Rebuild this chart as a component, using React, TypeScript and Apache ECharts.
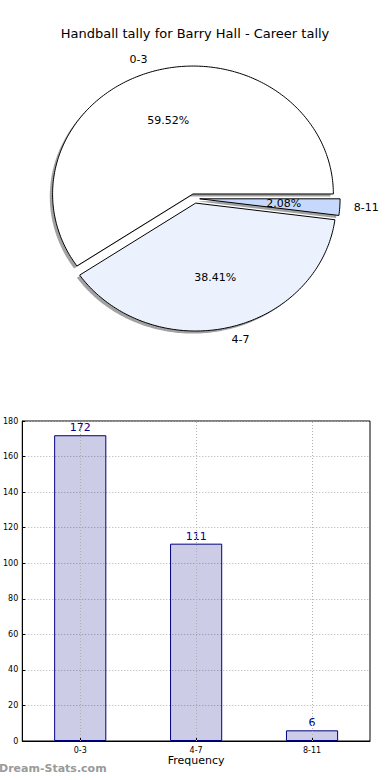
import React, { useEffect, useRef } from "react";
import * as echarts from "echarts";

const chartTitle = "Handball tally for Barry Hall - Career tally";
const categories = ["0-3", "4-7", "8-11"];
const counts = [172, 111, 6];
const sliceColors = ["#ffffff", "#ebf2fe", "#c6d9fd"];
const yMin = 0;
const yMax = 180;
const yStep = 20;
const xAxisName = "Frequency";
const watermark = "Dream-Stats.com";

const FONT = "DejaVu Sans";
const EXPLODE = 0.037;
const SHADOW = 0.02;
const GRID_LINE = { color: "#b0b0b0", type: [1, 2], width: 1 };

function pieRender(params: any, api: any) {
  const i = params.dataIndex;
  const total = counts.reduce((a, b) => a + b, 0);
  const before = counts.slice(0, i).reduce((a, b) => a + b, 0);
  const v = api.value(2);
  const a0 = (before / total) * 2 * Math.PI;
  const a1 = ((before + v) / total) * 2 * Math.PI;
  const m = (a0 + a1) / 2;
  const ox = EXPLODE * Math.cos(m);
  const oy = EXPLODE * Math.sin(m);
  const pts = (dx: number, dy: number) => {
    const out: number[][] = [api.coord([ox + dx, oy + dy])];
    const n = Math.max(3, Math.ceil((a1 - a0) / (Math.PI / 180)));
    for (let k = 0; k <= n; k++) {
      const a = a0 + ((a1 - a0) * k) / n;
      out.push(api.coord([ox + dx + Math.cos(a), oy + dy + Math.sin(a)]));
    }
    return out;
  };
  const pct = ((v / total) * 100).toFixed(2) + "%";
  const pPos = api.coord([ox + 0.6 * Math.cos(m), oy + 0.6 * Math.sin(m)]);
  const lPos = api.coord([ox + 1.1 * Math.cos(m), oy + 1.1 * Math.sin(m)]);
  const right = Math.cos(m) > 0;
  return {
    type: "group",
    children: [
      {
        type: "polygon",
        z2: 1,
        shape: { points: pts(-SHADOW, -SHADOW) },
        style: { fill: "rgba(70,70,70,0.5)", stroke: "none" },
      },
      {
        type: "polygon",
        z2: 5,
        shape: { points: pts(0, 0) },
        style: { fill: sliceColors[i], stroke: "#000", lineWidth: 1 },
      },
      {
        type: "text",
        z2: 10,
        x: pPos[0],
        y: pPos[1],
        style: {
          text: pct,
          fill: "#000",
          font: `11px "${FONT}"`,
          align: "center",
          verticalAlign: "middle",
        },
      },
      {
        type: "text",
        z2: 10,
        x: lPos[0],
        y: lPos[1],
        style: {
          text: categories[i],
          fill: "#000",
          font: `11px "${FONT}"`,
          align: right ? "left" : "right",
          verticalAlign: "middle",
        },
      },
    ],
  };
}

export default function App() {
  const ref = useRef<HTMLDivElement>(null);
  useEffect(() => {
    if (!ref.current) return;
    const chart = echarts.init(ref.current, null, { renderer: "svg" });
    chart.setOption({
      animation: false,
      backgroundColor: "#ffffff",
      textStyle: { fontFamily: FONT },
      title: {
        text: chartTitle,
        left: "center",
        top: 22,
        textStyle: { fontFamily: FONT, fontSize: 13, fontWeight: "normal", color: "#000" },
      },
      graphic: [
        {
          type: "text",
          left: -1,
          top: 763,
          style: {
            text: watermark,
            fill: "#9a9a9a",
            font: `bold 11px "${FONT}"`,
          },
        },
      ],
      grid: [
        { left: 12, top: 45, width: 365, height: 307, show: false },
        {
          left: 19,
          top: 421,
          width: 351,
          height: 320,
          show: true,
          borderColor: "#000",
          borderWidth: 1,
          backgroundColor: "transparent",
        },
      ],
      xAxis: [
        { gridIndex: 0, type: "value", min: -1.3, max: 1.3, show: false },
        {
          gridIndex: 1,
          type: "category",
          data: categories,
          name: xAxisName,
          nameLocation: "middle",
          nameGap: 14,
          nameTextStyle: { fontFamily: FONT, fontSize: 11, color: "#000" },
          axisLine: { show: true, lineStyle: { color: "#000", width: 1 } },
          axisTick: { show: true, inside: true, alignWithLabel: true, length: 3, lineStyle: { color: "#000" } },
          axisLabel: { fontFamily: FONT, fontSize: 8, color: "#000", margin: 5 },
          splitLine: { show: false },
        },
      ],
      yAxis: [
        { gridIndex: 0, type: "value", min: -1.2, max: 1.2, show: false },
        {
          gridIndex: 1,
          type: "value",
          min: yMin,
          max: yMax,
          interval: yStep,
          axisLine: { show: true, lineStyle: { color: "#000", width: 1 } },
          axisTick: { show: true, inside: true, length: 3, lineStyle: { color: "#000" } },
          axisLabel: { fontFamily: FONT, fontSize: 8, color: "#000", margin: 4 },
          splitLine: { show: true, lineStyle: GRID_LINE },
        },
      ],
      series: [
        {
          type: "custom",
          xAxisIndex: 0,
          yAxisIndex: 0,
          coordinateSystem: "cartesian2d",
          clip: false,
          silent: true,
          data: counts.map((c) => [0, 0, c]),
          encode: { x: 0, y: 1 },
          renderItem: pieRender,
        },
        {
          type: "bar",
          xAxisIndex: 1,
          yAxisIndex: 1,
          data: counts,
          barWidth: "45%",
          itemStyle: { color: "rgba(0,0,128,0.2)", borderColor: "#000080", borderWidth: 1 },
          label: {
            show: true,
            position: "top",
            distance: 2,
            color: "#00008b",
            fontFamily: FONT,
            fontSize: 11,
          },
          markLine: {
            silent: true,
            symbol: "none",
            label: { show: false },
            lineStyle: GRID_LINE,
            data: categories.map((c) => ({ xAxis: c })),
          },
        },
      ],
    });
    return () => chart.dispose();
  }, []);
  return (
    <div
      ref={ref}
      style={{ position: "fixed", left: 0, top: 0, width: 390, height: 780, background: "#fff" }}
    />
  );
}
